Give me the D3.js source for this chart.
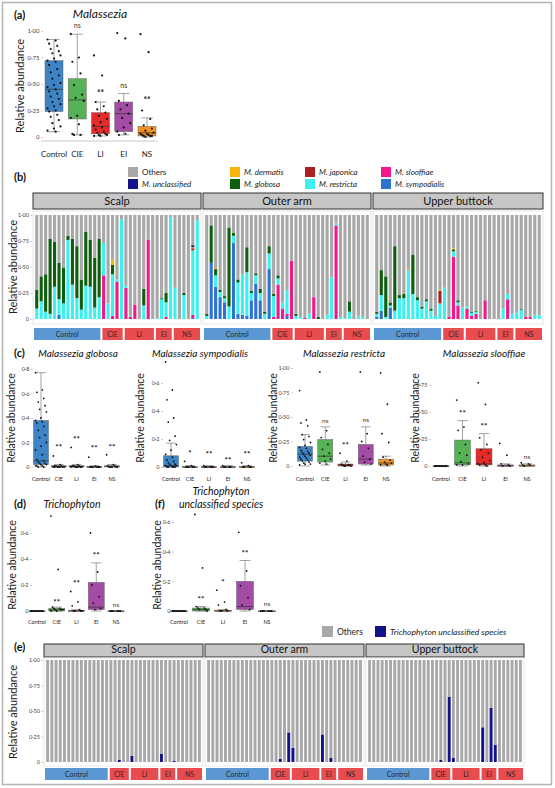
<!DOCTYPE html>
<html><head><meta charset="utf-8">
<script src="https://cdn.jsdelivr.net/npm/d3@7"></script>
<style>body{margin:0;background:#fff}svg{display:block}text{font-family:Lato,'Open Sans',sans-serif}</style>
</head><body><script>
// ---------- DATA ----------
const groups = ["Control","CIE","LI","EI","NS"];
const groupColors = ["#3d84c6","#55b255","#e62a2a","#a44ba6","#f4911f"];
const sites = ["Scalp","Outer arm","Upper buttock"];
const groupSizes = [15,5,7,4,6];

// panel (a) Malassezia
const aStats = [[0.05,0.24,0.45,0.72,0.92],[0.02,0.17,0.35,0.55,0.97],[0.01,0.03,0.10,0.23,0.33],[0.02,0.05,0.22,0.33,0.41],[0.00,0.01,0.04,0.10,0.18]];
const aCtrl = [0.92,0.91,0.88,0.86,0.83,0.81,0.79,0.77,0.74,0.72,0.71,0.68,0.64,0.61,0.58,0.55,0.51,0.49,0.47,0.45,0.43,0.41,0.38,0.36,0.33,0.31,0.29,0.27,0.25,0.24,0.21,0.19,0.16,0.13,0.10,0.08,0.06,0.05];
const aCIE = [0.97,0.75,0.71,0.60,0.49,0.40,0.37,0.34,0.20,0.18,0.12,0.03,0.02,0.02];
const aLI = [0.77,0.58,0.33,0.29,0.26,0.23,0.20,0.17,0.14,0.11,0.09,0.07,0.05,0.04,0.03,0.02,0.02,0.01,0.01];
const aEI = [0.98,0.93,0.34,0.30,0.26,0.22,0.18,0.13,0.09,0.05,0.03,0.02];
const aNS = [0.97,0.80,0.25,0.17,0.11,0.08,0.06,0.04,0.03,0.03,0.02,0.02,0.01,0.01,0.01,0.00];
const aSig = [[1,"ns",1.05],[2,"**",0.42],[3,"ns",0.48],[4,"**",0.36]];

// panel (b) stacked composition; keys: y=sympodialis s=slooffiae r=restricta j=japonica g=globosa d=dermatis u=unclassified
const speciesKeys = ["y","s","r","j","g","d","u","o"];
const speciesNames = {o:"Others",u:"M. unclassified",d:"M. dermatis",g:"M. globosa",j:"M. japonica",r:"M. restricta",s:"M. slooffiae",y:"M. sympodialis"};
const legendOrder = ["o","u","d","g","j","r","s","y"];
const speciesColors = {o:"#a8a8a8",u:"#15158a",d:"#f6b40f",g:"#0d5e0d",j:"#ab1f23",r:"#3cf0f0",s:"#f2188c",y:"#2f73d0"};
const scalpBars = [
 {r:.10,g:.18},{r:.17,g:.24},{r:.07,g:.36},{r:.05,g:.72},{r:.31,g:.43},{y:.04,r:.15,g:.35},{r:.15,g:.34},{r:.76,g:.04},
 {r:.33,g:.44},{r:.20,g:.50},{r:.09,g:.29},{r:.32,g:.52},{r:.31,g:.45},{r:.11,g:.48},{r:.21,g:.56},
 {s:.42,r:.31},{r:.15},{s:.03,r:.40,g:.09,d:.05},{s:.36,r:.02},{r:.96},
 {s:.30,r:.02},{s:.02,r:.01},{s:.14},{},{r:.13,g:.16},{s:.76},{},
 {r:.01},{r:.19,g:.01},{s:.02,r:.14,g:.09},{r:.98},
 {r:.30},{},{r:.23,g:.02},{},{s:.03,y:.01,r:.62,j:.02,d:.01,u:.02},{r:.95}];
const armBars = [
 {r:.03,g:.02},{y:.54,g:.36},{y:.31,r:.11,g:.06,d:.01},{y:.21,r:.05,g:.02},{y:.16,r:.04,g:.02},{r:.12,g:.76},{y:.73,r:.07,g:.03},{y:.05,r:.30,g:.03},
 {y:.04,r:.39},{y:.03,r:.42,g:.24},{y:.18,r:.07,g:.02},{y:.34,r:.08,g:.02},{y:.18,r:.07,g:.04},{r:.05,g:.02},{y:.48,r:.15,g:.07},
 {s:.02,r:.20,g:.02},{s:.33,r:.06,g:.03},{s:.10,r:.06},{s:.02,y:.03,r:.23},{s:.56},
 {r:.03,g:.02},{r:.02},{s:.01},{r:.05},{s:.21},{g:.02},{},
 {r:.04},{r:.40},{s:.90,r:.02},{r:.02},
 {r:.01},{r:.07,g:.10},{},{r:.03},{r:.02},{}];
const buttBars = [
 {y:.02,r:.03,g:.02},{y:.08,r:.15,g:.24},{r:.02,g:.39},{y:.11,r:.02,g:.03},{r:.08,g:.62},{r:.20,g:.03},{r:.20,g:.04},{r:.47,d:.01},
 {r:.24,g:.38},{r:.18,g:.03},{r:.10,g:.02},{r:.17,g:.02},{r:.08,g:.02},{r:.03},{r:.15,j:.12,d:.01},
 {r:.30},{s:.02},{s:.60,r:.05,g:.02,d:.01},{s:.13,r:.03,g:.02},{r:.11},
 {s:.10,r:.02},{s:.03,r:.03,g:.01},{s:.05,r:.02,g:.01},{},{s:.18},{},{},
 {},{r:.10},{s:.19,r:.05},{r:.05},
 {r:.06},{r:.09,g:.01},{s:.02},{s:.02},{r:.04},{r:.04}];

// panel (c)
const globStats = [[0,0.02,0.05,0.38,0.77],[0,0,0.005,0.01,0.02],[0,0,0.005,0.01,0.02],[0,0,0,0.005,0.01],[0,0,0.005,0.01,0.02]];
const globPts = [[0.77,0.63,0.61,0.56,0.53,0.50,0.47,0.45,0.40,0.38,0.37,0.36,0.33,0.30,0.26,0.24,0.20,0.17,0.14,0.10,0.06,0.05,0.04,0.03,0.03,0.02,0.02,0.01,0.01,0.01,0,0],
 [0.09,0.02,0.01,0.01,0.01,0,0,0,0,0,0,0],[0.16,0.02,0.01,0.01,0.01,0,0,0,0,0,0],[0.08,0.01,0,0,0,0,0,0],[0.10,0.02,0.01,0.01,0,0,0,0,0]];
const globSig = [[1,"**",0.17],[2,"**",0.24],[3,"**",0.16],[4,"**",0.17]];
const sympStats = [[0,0,0.01,0.08,0.17],[0,0,0,0.002,0.01],[0,0,0,0.002,0.01],[0,0,0,0.002,0.01],[0,0,0,0.002,0.01]];
const sympPts = [[0.75,0.55,0.48,0.35,0.32,0.22,0.19,0.16,0.12,0.09,0.07,0.05,0.04,0.03,0.02,0.02,0.01,0.01,0.01,0,0,0,0,0],
 [0.04,0.01,0,0,0,0,0],[0.01,0,0,0,0,0],[0.01,0,0,0,0],[0.03,0.01,0,0,0,0]];
const sympSig = [[1,"*",0.11],[2,"**",0.10],[3,"**",0.06],[4,"**",0.10]];
const restStats = [[0,0.05,0.12,0.20,0.32],[0.01,0.04,0.10,0.27,0.40],[0,0,0.01,0.02,0.04],[0.01,0.02,0.07,0.22,0.40],[0,0.01,0.03,0.07,0.10]];
const restPts = [[0.77,0.47,0.44,0.41,0.32,0.30,0.27,0.24,0.21,0.19,0.18,0.16,0.15,0.14,0.13,0.12,0.11,0.10,0.09,0.08,0.07,0.06,0.05,0.04,0.03,0.02,0.02,0.01],
 [0.96,0.36,0.29,0.22,0.17,0.13,0.10,0.07,0.05,0.03,0.02],[0.13,0.05,0.02,0.01,0.01,0.01,0,0,0],
 [0.96,0.33,0.25,0.18,0.10,0.07,0.04,0.02],[0.95,0.63,0.33,0.24,0.09,0.06,0.04,0.03,0.02,0.01,0.01]];
const restSig = [[1,"ns",0.46],[2,"**",0.22],[3,"ns",0.47]];
const sloofStats = [[0,0,0,0,0],[0,0.01,0.03,0.24,0.42],[0,0.01,0.02,0.16,0.30],[0,0,0,0.01,0.02],[0,0,0,0.01,0.02]];
const sloofPts = [[0,0,0,0,0,0,0,0,0,0],[0.61,0.36,0.33,0.20,0.12,0.10,0.04,0.02,0.01,0.01],
 [0.77,0.57,0.26,0.20,0.15,0.12,0.08,0.05,0.03,0.02,0.01,0.01,0],[0.21,0.10,0.02,0.01,0,0],[0.03,0.02,0.01,0.01,0]];
const sloofSig = [[1,"**",0.50],[2,"**",0.38],[4,"ns",0.08]];

// panel (d) Trichophyton
const trichStats = [[0,0,0,0,0],[0,0,0.01,0.02,0.03],[0,0,0,0.005,0.01],[0,0.01,0.03,0.22,0.37],[0,0,0,0,0]];
const trichPts = [[0,0,0,0,0,0,0,0,0,0],[0.73,0.32,0.03,0.02,0.02,0.01,0.01,0.01,0,0],[0.15,0.07,0.04,0.01,0,0,0,0],[0.60,0.30,0.20,0.11,0.06,0.02,0.01],[0,0,0,0,0,0]];
const trichSig = [[1,"**",0.08],[2,"**",0.22],[3,"**",0.44],[4,"ns",0.05]];
// panel (f) Trichophyton unclassified species
const tuStats = [[0,0,0,0,0],[0,0,0.01,0.02,0.03],[0,0,0,0.005,0.01],[0,0.01,0.03,0.20,0.34],[0,0,0,0,0]];
const tuPts = [[0,0,0,0,0,0,0,0,0,0],[0.65,0.29,0.03,0.02,0.02,0.01,0.01,0],[0.14,0.06,0.04,0.01,0,0,0],[0.53,0.27,0.17,0.09,0.04,0.01],[0,0,0,0,0,0]];
const tuSig = [[1,"**",0.09],[2,"*",0.20],[3,"**",0.40],[4,"ns",0.05]];

// panel (e) Trichophyton unclassified species per sample
const eScalp = [0,0,0,0,0,0,0,0,0,0,0,0,0,0,0, 0,0,.02,0,0, .06,0,0,0,0,0,0, .08,0,0,.01, 0,0,0,0,0,0];
const eArm   = [0,0,0,0,0,0,0,0,0,0,0,0,0,0,0, 0,0,.03,0,.29, .14,0,0,0,0,0,0, .27,0,.04,0, 0,0,0,0,0,0];
const eButt  = [0,0,0,0,0,0,0,0,0,0,0,0,0,0,0, 0,0,.02,0,.64, .04,0,0,0,0,0,0, .34,0,.53,.17, 0,0,0,0,0,0];

// ---------- DRAW ----------
const svg = d3.select("body").append("svg").attr("width",555).attr("height",788);
svg.append("rect").attr("x",2.5).attr("y",2.5).attr("width",549).attr("height",782).attr("fill","#fff").attr("stroke","#b4b4b4").attr("stroke-width",1.5);

function txt(x,y,s,o={}){
  const t = svg.append("text").attr("x",x).attr("y",y).text(s)
    .attr("font-size",o.size||10).attr("text-anchor",o.anchor||"start").attr("fill",o.fill||"#111");
  if(o.bold) t.attr("font-weight","bold");
  if(o.italic) t.attr("font-style","italic");
  if(o.rotate) t.attr("transform",`rotate(-90,${x},${y})`);
  return t;
}
const fmt2 = d => d===0 ? "0" : d3.format(".2f")(d).replace(".","·");
const fmt1 = d => d===0 ? "0" : d3.format(".1f")(d).replace(".","·");

function boxPanel(c){
  const g = svg.append("g");
  const x = d3.scalePoint().domain(groups).range(c.xr);
  const y = d3.scaleLinear().domain(c.dom).range(c.yr);
  const ax = d3.axisLeft(y).tickValues(c.ticks).tickFormat(c.fmt).tickSize(2).tickPadding(1.5);
  g.append("g").attr("transform",`translate(${c.axisX},0)`).call(ax).call(s=>{
    s.select(".domain").remove();
    s.selectAll("text").attr("font-size",c.tickSize||5.5).attr("fill","#444").attr("font-family","Lato,sans-serif");
    s.selectAll("line").attr("stroke","#999").attr("stroke-width",0.5);
  });
  if(c.xline) g.append("line").attr("x1",c.xline[0]).attr("x2",c.xline[1]).attr("y1",c.xline[2]).attr("y2",c.xline[2]).attr("stroke","#bbb").attr("stroke-width",0.8);
  groups.forEach(gn=>{
    g.append("text").attr("x",x(gn)).attr("y",c.labY).attr("text-anchor","middle").attr("font-size",c.labSize).attr("fill","#222").text(gn);
  });
  const bw=c.bw;
  c.stats.forEach((st,i)=>{
    const cx=x(groups[i]);
    g.append("line").attr("x1",cx).attr("x2",cx).attr("y1",y(st[0])).attr("y2",y(st[4])).attr("stroke","#666").attr("stroke-width",0.6);
    [st[0],st[4]].forEach(v=>g.append("line").attr("x1",cx-bw*0.32).attr("x2",cx+bw*0.32).attr("y1",y(v)).attr("y2",y(v)).attr("stroke","#666").attr("stroke-width",0.6));
    g.append("rect").attr("x",cx-bw/2).attr("width",bw).attr("y",y(st[3])).attr("height",Math.max(0.8,y(st[1])-y(st[3])))
      .attr("fill",groupColors[i]).attr("stroke","#666").attr("stroke-width",0.5);
    g.append("line").attr("x1",cx-bw/2).attr("x2",cx+bw/2).attr("y1",y(st[2])).attr("y2",y(st[2])).attr("stroke","#333").attr("stroke-width",0.7);
  });
  c.pts.forEach((arr,i)=>{
    const cx=x(groups[i]);
    arr.forEach((v,j)=>{
      const jx=(((j*5)%9)-4)/4*bw*0.36;
      g.append("circle").attr("cx",cx+jx).attr("cy",y(v)).attr("r",c.r||0.9).attr("fill","#111");
    });
  });
  c.sig.forEach(([i,s,v])=>{
    const cx=x(groups[i]);
    if(s==="ns") g.append("text").attr("x",cx).attr("y",y(v)+2).attr("text-anchor","middle").attr("font-size",c.sigSize||6.5).attr("fill","#333").text("ns");
    else g.append("text").attr("x",cx).attr("y",y(v)+4).attr("text-anchor","middle").attr("font-size",(c.sigSize||6.5)+1.5).attr("font-weight","bold").attr("fill","#111").text(s);
  });
  txt(c.yt[0],c.yt[1],"Relative abundance",{size:c.ytSize||11,anchor:"middle",rotate:true,fill:"#222"});
  c.title.forEach(([tx,ty,ts,sz])=>txt(tx,ty,ts,{size:sz,italic:true,anchor:"middle"}));
}

function facetBars(c){
  const nBars = c.rows[0].length;
  const y = d3.scaleLinear().domain([0,1]).range(c.yr);
  c.facets.forEach((f,fi)=>{
    const [x0,x1]=f;
    svg.append("rect").attr("x",x0).attr("y",c.stripY[0]).attr("width",x1-x0).attr("height",c.stripY[1]-c.stripY[0]).attr("fill","#c6c6c6").attr("stroke","#333").attr("stroke-width",1);
    txt((x0+x1)/2,c.stripY[1]-4,sites[fi],{size:c.stripSize||11,anchor:"middle"});
    svg.append("rect").attr("x",x0).attr("y",c.panelY[0]).attr("width",x1-x0).attr("height",c.panelY[1]-c.panelY[0]).attr("fill","#fff").attr("stroke","#e0e0e0").attr("stroke-width",0.8);
    const x = d3.scaleBand().domain(d3.range(nBars)).range([x0+1.5,x1-1.5]).paddingInner(0.3).paddingOuter(0.15);
    const series = d3.stack().keys(c.keys)(c.rows[fi]);
    series.forEach(s=>{
      svg.append("g").selectAll("rect").data(s).join("rect")
        .attr("x",(d,i)=>x(i)).attr("width",x.bandwidth())
        .attr("y",d=>y(d[1])).attr("height",d=>Math.max(0,y(d[0])-y(d[1])))
        .attr("fill",c.colors[s.key]);
    });
    if(fi===0){
      const ax=d3.axisLeft(y).tickValues([0,.25,.5,.75,1]).tickFormat(fmt2).tickSize(2).tickPadding(1.5);
      svg.append("g").attr("transform",`translate(${x0-0.5},0)`).call(ax).call(s=>{
        s.select(".domain").remove();
        s.selectAll("text").attr("font-size",5.5).attr("fill","#444");
        s.selectAll("line").attr("stroke","#999").attr("stroke-width",0.5);
      });
    }
    let start=0;
    const gap=(x.step()-x.bandwidth())/2;
    groups.forEach((gn,gi)=>{
      const end=start+groupSizes[gi];
      const l=(start===0? x0 : x(start)-gap)+1;
      const r=(end===nBars? x1 : x(end-1)+x.bandwidth()+gap)-1;
      svg.append("rect").attr("x",l).attr("y",c.gStripY[0]).attr("width",r-l).attr("height",c.gStripY[1]-c.gStripY[0]).attr("fill",gi===0?"#5b97d2":"#e84c4f");
      txt((l+r)/2,c.gStripY[1]-3.3,gn,{size:7,anchor:"middle",fill:"#2a2a2a"});
      start=end;
    });
  });
  txt(c.yt[0],c.yt[1],"Relative abundance",{size:11,anchor:"middle",rotate:true,fill:"#222"});
}

// (a)
txt(14,19,"(a)",{size:11,bold:true});
boxPanel({xr:[54,147],dom:[0,1],yr:[137,31],ticks:[0,.25,.5,.75,1],fmt:fmt2,axisX:43,bw:18,labY:157,labSize:8,tickSize:6,
  stats:aStats,pts:[aCtrl,aCIE,aLI,aEI,aNS],sig:aSig,yt:[24,86],title:[[100,18,"Malassezia",12]],xline:[41,158,141],r:1.1,sigSize:7});

// (b)
txt(14,181,"(b)",{size:11,bold:true});
const legX=[128,230,305,381], legY=[172,184];
legendOrder.forEach((k,i)=>{
  const col=Math.floor(i/2), row=i%2;
  svg.append("rect").attr("x",legX[col]).attr("y",legY[row]-5).attr("width",10).attr("height",10).attr("fill",speciesColors[k]);
  txt(legX[col]+14,legY[row]+3,speciesNames[k],{size:8,italic:k!=="o",fill:"#222"});
});
const fillRow = b => { const r={}; let sum=0; speciesKeys.slice(0,7).forEach(k=>{r[k]=b[k]||0; sum+=r[k];}); r.o=Math.max(0,1-sum); return r; };
facetBars({facets:[[33,201],[203,371],[373,543]],stripY:[193,209],panelY:[211,324],yr:[319,215],gStripY:[328,340],
  rows:[scalpBars.map(fillRow),armBars.map(fillRow),buttBars.map(fillRow)],keys:speciesKeys,colors:speciesColors,yt:[17,267]});

// (c)
txt(14,357,"(c)",{size:11,bold:true});
boxPanel({xr:[41,112],dom:[0,0.8],yr:[467,369],ticks:[0,.2,.4,.6,.8],fmt:fmt1,axisX:33,bw:15,labY:481,labSize:5.5,
  stats:globStats,pts:globPts,sig:globSig,yt:[15,418],title:[[78,357,"Malassezia globosa",10]],ytSize:10.5});
boxPanel({xr:[171,247],dom:[0,0.75],yr:[467,362],ticks:[0,.2,.4,.6],fmt:fmt1,axisX:163,bw:15,labY:481,labSize:5.5,
  stats:sympStats,pts:sympPts,sig:sympSig,yt:[144,418],title:[[200,357,"Malassezia sympodialis",10]],ytSize:10.5});
boxPanel({xr:[305,386],dom:[0,1],yr:[466,368],ticks:[0,.25,.5,.75,1],fmt:fmt2,axisX:293,bw:15,labY:481,labSize:5.5,
  stats:restStats,pts:restPts,sig:restSig,yt:[277,418],title:[[344,357,"Malassezia restricta",10]],ytSize:10.5});
boxPanel({xr:[441,527],dom:[0,1],yr:[466,358],ticks:[0,.25,.5,.75],fmt:fmt2,axisX:431,bw:16,labY:481,labSize:5.5,
  stats:sloofStats,pts:sloofPts,sig:sloofSig,yt:[419,418],title:[[484,357,"Malassezia slooffiae",10]],ytSize:10.5});

// (d) and (f)
txt(14,508,"(d)",{size:11,bold:true});
boxPanel({xr:[37,116],dom:[0,0.75],yr:[611,513.5],ticks:[0,.2,.4,.6],fmt:fmt1,axisX:32,bw:16,labY:624,labSize:5.5,
  stats:trichStats,pts:trichPts,sig:trichSig,yt:[16,565],title:[[72,508,"Trichophyton",10.5]],ytSize:10.5});
txt(155,508,"(f)",{size:11,bold:true});
boxPanel({xr:[179,267],dom:[0,0.66],yr:[611,513],ticks:[0,.2,.4,.6],fmt:fmt1,axisX:174,bw:17,labY:624,labSize:5.5,
  stats:tuStats,pts:tuPts,sig:tuSig,yt:[161,565],title:[[221,495,"Trichophyton",10.5],[221,508,"unclassified species",10.5]],ytSize:10.5});

// (e)
txt(14,651,"(e)",{size:11,bold:true});
svg.append("rect").attr("x",322).attr("y",626).attr("width",11).attr("height",11).attr("fill","#a8a8a8");
txt(337,634.5,"Others",{size:8.5,fill:"#222"});
svg.append("rect").attr("x",375).attr("y",626).attr("width",11).attr("height",11).attr("fill","#12128a");
txt(390,634.5,"Trichophyton unclassified species",{size:8.5,italic:true,fill:"#222"});
const eRow = v => ({t:v,o:1-v});
facetBars({facets:[[44,203],[205,364],[366,524]],stripY:[644,657],panelY:[658,766],yr:[762,660],gStripY:[768,780],
  rows:[eScalp.map(eRow),eArm.map(eRow),eButt.map(eRow)],keys:["t","o"],colors:{t:"#12128a",o:"#a8a8a8"},yt:[17,712],stripSize:10.5});
</script></body></html>
